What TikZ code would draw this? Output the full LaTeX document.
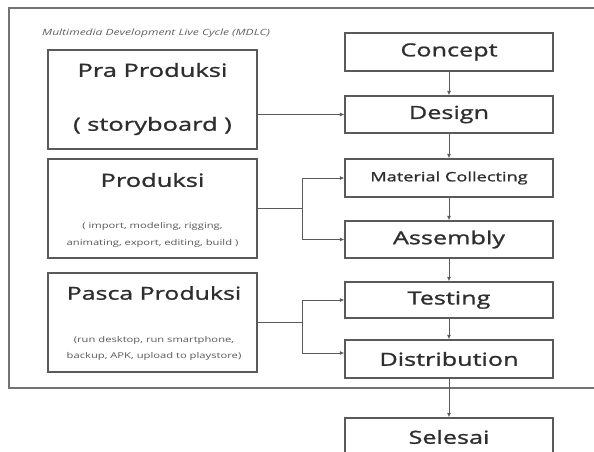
\documentclass[tikz,border=0pt]{standalone}
\usepackage{fontspec}
\setmainfont{Open Sans}[FakeStretch=1.4]
\newfontfamily\bx{Open Sans}[FakeStretch=1.4,FakeBold=1.2]
\usetikzlibrary{arrows.meta,calc}
\definecolor{txt}{HTML}{2E2E2E}
\definecolor{ln}{HTML}{5A5A5A}
\begin{document}
\begin{tikzpicture}[x={(1pt,0)},y={(0,-1pt)},
  box/.style={draw=ln,line width=1.3pt,rectangle,inner sep=0pt,text=txt,align=center},
  rbox/.style={box,minimum width=208pt,minimum height=37pt,font=\bx\fontsize{18}{20}\selectfont},
  lbox/.style={box,minimum width=209pt,minimum height=99pt},
  big/.style={text=txt,inner sep=0pt},
  small/.style={text=txt!80,font=\fontsize{8}{16.5}\selectfont,align=center,inner sep=0pt},
  conn/.style={draw=ln,line width=1pt},
  arr/.style={conn,-{Latex[length=4.5pt,width=4pt]}}]
\useasboundingbox (0,0) rectangle (594,452);
\clip (0,0) rectangle (594,452);
\fill[white] (0,0) rectangle (594,452);
% frame
\draw[draw=ln!85,line width=1.3pt] (9,8) rectangle (620,388);
\node[anchor=west,text=txt!75,font=\fontsize{8.6}{10}\selectfont\itshape,inner sep=0pt] (title) at (42,33) {Multimedia Development Live Cycle (MDLC)};
% right column
\node[rbox,minimum height=38pt] (concept) at (449,52) {Concept};
\node[rbox] (design) at (449,114.5) {Design};
\node[rbox,minimum height=38pt,font=\bx\fontsize{13}{15}\selectfont] (mat) at (449,178) {Material Collecting};
\node[rbox] (asm) at (449,239.5) {Assembly};
\node[rbox,minimum height=36pt] (test) at (449,300) {Testing};
\node[rbox,minimum height=38pt] (dist) at (449,359) {Distribution};
\node[rbox,minimum height=38pt] (sel) at (449,437) {Selesai};
% left column
\node[lbox] (pra) at (152.5,99.5) {};
\node[big,font=\bx\fontsize{18.2}{20}\selectfont] (praT) at (152.5,70) {Pra Produksi};
\node[big,font=\bx\fontsize{18.2}{20}\selectfont] (praS) at (152.5,126) {( storyboard )};
\node[lbox] (prod) at (152.5,208.5) {};
\node[big,font=\bx\fontsize{18.2}{20}\selectfont] (prodT) at (152.5,180) {Produksi};
\node[small] (prodS) at (152.5,235) {( import, modeling, rigging,\\animating, export, editing, build )};
\node[lbox] (pasca) at (152.5,322.5) {};
\node[big,font=\bx\fontsize{17.8}{20}\selectfont] (pascaT) at (154,293) {Pasca Produksi};
\node[small] (pascaS) at (154,348.5) {(run desktop, run smartphone,\\backup, APK, upload to playstore)};
% vertical arrows
\draw[arr] (concept) -- (design);
\draw[arr] (design) -- (mat);
\draw[arr] (mat) -- (asm);
\draw[arr] (asm) -- (test);
\draw[arr] (test) -- (dist);
\draw[arr] (dist) -- (sel);
% left connectors
\draw[arr] (pra.east |- design.west) -- (design.west);
\coordinate (j1) at (302,208.5);
\draw[conn] (prod.east) -- (j1);
\draw[arr] (j1) |- (mat.west);
\draw[arr] (j1) |- (asm.west);
\coordinate (j2) at (302,322.5);
\draw[conn] (pasca.east) -- (j2);
\draw[arr] (j2) |- (test.west);
\draw[arr] (j2) |- ($(dist.west)+(0,-6)$);
\end{tikzpicture}
\end{document}
